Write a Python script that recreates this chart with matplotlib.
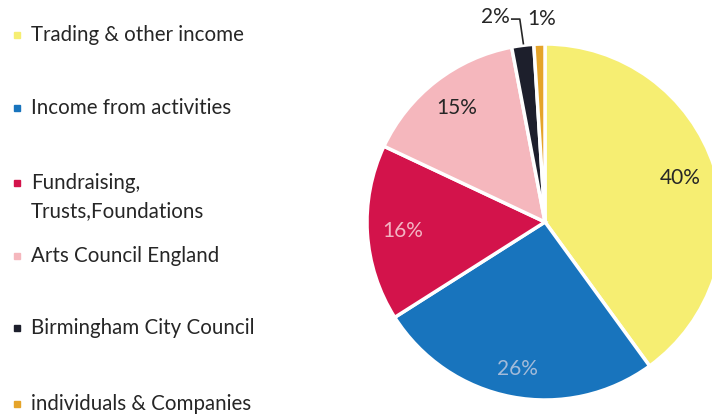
import numpy as np
import matplotlib
matplotlib.use("Agg")
import matplotlib.pyplot as plt
from matplotlib.patches import Rectangle

labels = ["Trading & other income", "Income from activities",
          "Fundraising,\nTrusts,Foundations", "Arts Council England",
          "Birmingham City Council", "individuals & Companies"]
shares = [40, 26, 16, 15, 2, 1]
pct_text = ["40%", "26%", "16%", "15%", "2%", "1%"]
colors = ["#f6ee72", "#1874bd", "#d3134b", "#f5b7bd", "#1d1f2c", "#e5a42a"]
pct_colors = ["#262626", "#a3bbd9", "#f3b3c2", "#262626", "#262626", "#262626"]

plt.rcParams['font.family'] = ['Lato', 'DejaVu Sans']

fig = plt.figure(figsize=(7.12, 4.17), dpi=100)

# pie axes: centre ~ (545, 222) px, radius ~178 px
W, H = 712, 417
cx, cy, R = 545, 222, 178
ax = fig.add_axes([(cx - R) / W, (H - cy - R) / H, 2 * R / W, 2 * R / H])

wedges, _ = ax.pie(shares, colors=colors, startangle=90, counterclock=False,
                   wedgeprops=dict(edgecolor="white", linewidth=2.5))
ax.set_xlim(-1, 1)
ax.set_ylim(-1, 1)
ax.set_aspect("equal")
ax.axis("off")

# percentage labels inside the big slices
pct_dist = [0.80, 0.84, 0.80, 0.81]
for i, w in enumerate(wedges[:4]):
    mid = np.deg2rad((w.theta1 + w.theta2) / 2)
    ax.text(pct_dist[i] * np.cos(mid), pct_dist[i] * np.sin(mid), pct_text[i],
            ha="center", va="center", fontsize=15, color=pct_colors[i])

# small slices: labels above the pie, 2% with a leader line
w = wedges[4]
mid = np.deg2rad((w.theta1 + w.theta2) / 2)
tip = (np.cos(mid) * 1.01, np.sin(mid) * 1.01)
ax.plot([tip[0] - 0.06, tip[0] - 0.015, tip[0] + 0.005],
        [1.14, 1.14, tip[1]], color="#262626", lw=1.2, clip_on=False)
ax.text(tip[0] - 0.07, 1.15, pct_text[4], ha="right", va="center",
        fontsize=15, color="#262626")
w = wedges[5]
mid = np.deg2rad((w.theta1 + w.theta2) / 2)
ax.text(np.cos(mid) + 0.01, 1.14, pct_text[5], ha="center", va="center",
        fontsize=15, color="#262626")

# legend at left (y = centre of the first text line, px from top)
rows_y = [35, 108, 183, 256, 328, 404]
line_gap = 28
for lab, col, y in zip(labels, colors, rows_y):
    n = lab.count("\n")
    fig.patches.append(Rectangle((14 / W, (H - y - 3) / H), 6 / W, 6 / H,
                                 transform=fig.transFigure, color=col))
    for k, part in enumerate(lab.split("\n")):
        fig.text(31 / W, (H - y - k * line_gap) / H, part, ha="left",
                 va="center", fontsize=14.8, color="#262626")

fig.savefig("out.png", dpi=100, facecolor="white")
